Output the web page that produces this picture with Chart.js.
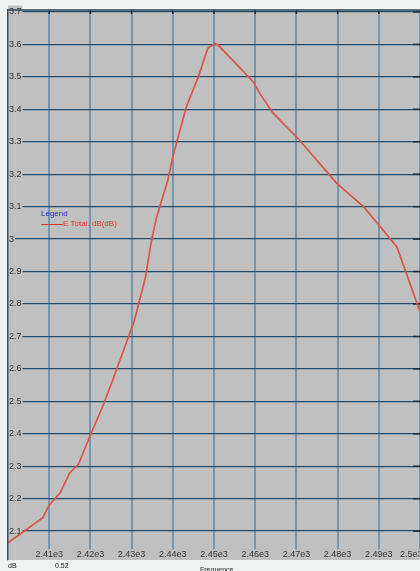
<!DOCTYPE html>
<html>
<head>
<meta charset="utf-8">
<script src="https://cdn.jsdelivr.net/npm/chart.js@4"></script>
<style>
html,body{margin:0;padding:0;background:#f0f1f1;}
#wrap{width:420px;height:571px;position:relative;}
</style>
</head>
<body>
<div id="wrap"><canvas id="c" width="420" height="571"></canvas></div>
<script>
const frequency = [2400.0, 2408.4, 2410.0, 2412.7, 2415.0, 2417.1, 2419.9, 2423.1, 2425.4, 2430.7, 2433.4, 2434.7, 2436.0, 2438.8, 2440.0, 2443.3, 2444.9, 2446.2, 2448.5, 2450.2, 2451.0, 2459.5, 2461.1, 2464.3, 2470.4, 2479.8, 2486.3, 2494.4, 2500.0];
const eTotalDb = [2.064, 2.141, 2.180, 2.219, 2.280, 2.306, 2.393, 2.488, 2.565, 2.750, 2.884, 2.987, 3.064, 3.182, 3.254, 3.408, 3.459, 3.500, 3.588, 3.603, 3.598, 3.485, 3.449, 3.389, 3.310, 3.172, 3.100, 2.976, 2.776];
const seriesName = 'E Total. dB(dB)';
const legendTitle = 'Legend';
const xAxisTitle = 'Frequence';
const yUnit = 'dB';
const footerValue = '0.52';
const xRange = [2400, 2500];
const yRange = [2.011, 3.706];

const points = frequency.map((f, i) => ({x: f, y: eTotalDb[i]}));

const plotBg = {
  id: 'plotBg',
  beforeDraw(chart) {
    const {ctx, chartArea: a} = chart;
    ctx.save();
    ctx.fillStyle = '#f0f1f1';
    ctx.fillRect(0, 0, chart.width, chart.height);
    ctx.fillStyle = '#c0c0c0';
    ctx.fillRect(a.left, a.top, a.right - a.left, a.bottom - a.top);
    ctx.restore();
  },
  beforeDatasetsDraw(chart) {
    const {ctx, chartArea: a, scales} = chart;
    ctx.save();
    ctx.strokeStyle = '#1a2a36';
    ctx.lineWidth = 1.5;
    scales.x.ticks.forEach(t => {
      const px = scales.x.getPixelForValue(t.value);
      if (px <= a.left + 1 || px >= a.right - 1) return;
      ctx.beginPath(); ctx.moveTo(px, a.top); ctx.lineTo(px, a.top + 4); ctx.stroke();
    });
    scales.y.ticks.forEach(t => {
      const py = scales.y.getPixelForValue(t.value);
      ctx.beginPath(); ctx.moveTo(a.right - 7, py); ctx.lineTo(a.right, py); ctx.stroke();
    });
    ctx.strokeStyle = '#2c4a5a';
    ctx.lineWidth = 1.5;
    ctx.beginPath(); ctx.moveTo(a.left, a.top); ctx.lineTo(a.right, a.top); ctx.stroke();
    ctx.restore();
  },
  afterDraw(chart) {
    const {ctx} = chart;
    ctx.save();
    ctx.textBaseline = 'middle';
    ctx.font = '8px "Liberation Sans", Arial, sans-serif';
    ctx.fillStyle = '#2a2ad0';
    ctx.fillText(legendTitle, 41, 214);
    ctx.strokeStyle = '#e0382e';
    ctx.lineWidth = 1;
    ctx.beginPath(); ctx.moveTo(41, 224.5); ctx.lineTo(63, 224.5); ctx.stroke();
    ctx.fillStyle = '#e0382e';
    ctx.fillText(seriesName, 63, 224);
    ctx.fillStyle = '#222';
    ctx.font = '7px "Liberation Sans", Arial, sans-serif';
    ctx.fillText(yUnit, 8, 566);
    ctx.fillText(footerValue, 55, 566);
    ctx.fillText(xAxisTitle, 200, 570);
    ctx.restore();
  }
};

const zeroPad = s => { s.paddingLeft = 0; s.paddingRight = 0; s.paddingTop = 0; s.paddingBottom = 0; };

new Chart(document.getElementById('c'), {
  type: 'scatter',
  data: {
    datasets: [{
      label: seriesName,
      data: points,
      showLine: true,
      borderColor: '#d9554a',
      borderWidth: 1.7,
      pointRadius: 0,
      tension: 0,
      fill: false
    }]
  },
  options: {
    responsive: false,
    animation: false,
    devicePixelRatio: 1,
    layout: {padding: {left: 6, top: 10, right: 0, bottom: 11}},
    plugins: {legend: {display: false}, tooltip: {enabled: false}},
    scales: {
      x: {
        type: 'linear',
        position: 'bottom',
        min: xRange[0],
        max: xRange[1],
        afterFit: zeroPad,
        border: {display: false},
        grid: {color: '#7397b3', lineWidth: 2, drawTicks: false},
        ticks: {
          stepSize: 10,
          includeBounds: false,
          mirror: true,
          padding: 0,
          maxRotation: 0,
          autoSkip: false,
          color: '#333',
          font: {family: '"Liberation Sans", Arial, sans-serif', size: 9, lineHeight: 1.2},
          showLabelBackdrop: true,
          backdropColor: '#c0c0c0',
          backdropPadding: 0,
          callback: (v) => {
            const r = Math.round(v);
            if (r <= xRange[0]) return null;
            const s = (r / 1000) + 'e3';
            return r >= xRange[1] ? s + '       ' : s;
          }
        }
      },
      y: {
        type: 'linear',
        position: 'left',
        min: yRange[0],
        max: yRange[1],
        afterFit: zeroPad,
        border: {display: true, color: '#3a4f5c', width: 1.5, z: 1},
        grid: {color: '#244c6a', lineWidth: 1.3, drawTicks: false},
        ticks: {
          stepSize: 0.1,
          includeBounds: false,
          mirror: true,
          padding: 1,
          color: '#333',
          font: {family: '"Liberation Sans", Arial, sans-serif', size: 9},
          showLabelBackdrop: true,
          backdropColor: '#c0c0c0',
          backdropPadding: 1,
          callback: (v) => String(Math.round(v * 10) / 10)
        }
      }
    }
  },
  plugins: [plotBg]
});
</script>
</body>
</html>
